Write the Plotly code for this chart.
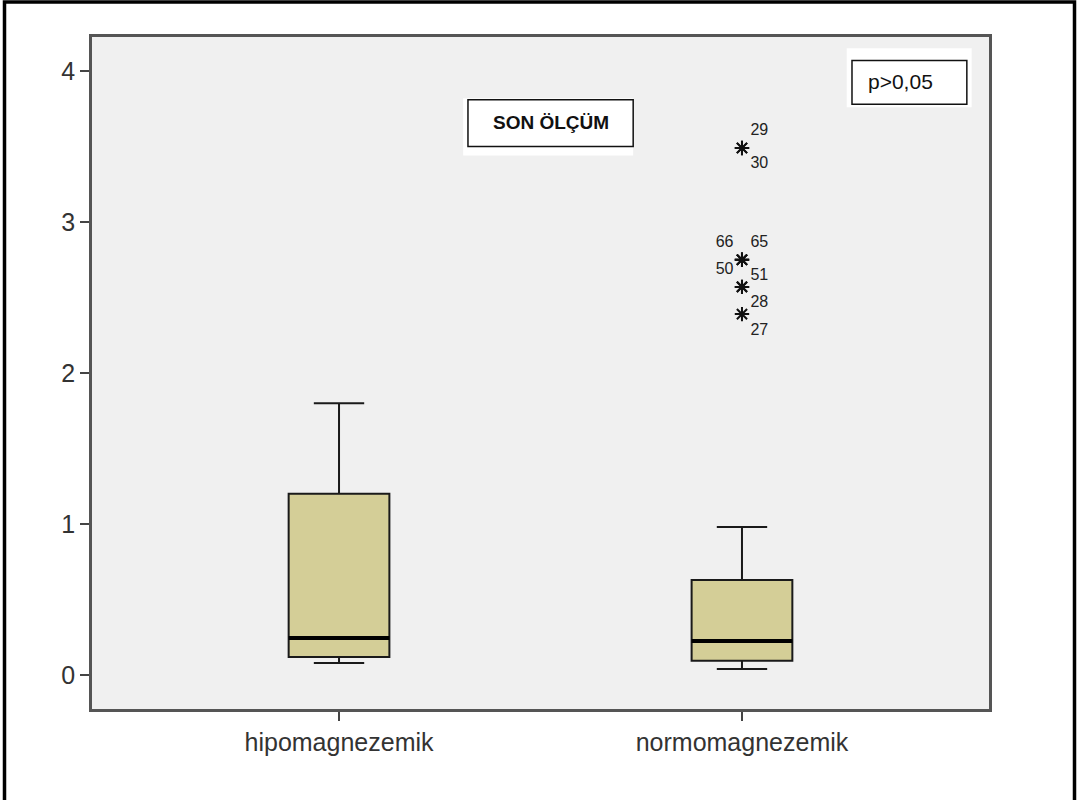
import plotly.graph_objects as go

# Group names and five-number summaries of the final measurement
groups = ["hipomagnezemik", "normomagnezemik"]
lower_whisker = [0.08, 0.04]
q1 = [0.12, 0.095]
median = [0.245, 0.225]
q3 = [1.20, 0.63]
upper_whisker = [1.80, 0.98]

# Extreme values (case numbers) in the normomagnezemik group
outlier_ids = ["29", "30", "66", "65", "51", "50", "28", "27"]
outlier_values = [3.49, 3.49, 2.75, 2.75, 2.75, 2.57, 2.57, 2.39]

y_ticks = [0, 1, 2, 3, 4]

title_text = "SON ÖLÇÜM"
p_text = "p>0,05"

positions = [1, 2]
box_w = 0.25
label_pos = ["top right", "bottom right", "top left", "top right",
             "bottom right", "top left", "bottom right", "bottom right"]

FONT = "Liberation Sans, Arial, sans-serif"
BOX_FILL = "#D4CE97"

fig = go.Figure()

for i, name in enumerate(groups):
    fig.add_trace(go.Box(
        x=[positions[i]],
        q1=[q1[i]], median=[median[i]], q3=[q3[i]],
        lowerfence=[lower_whisker[i]], upperfence=[upper_whisker[i]],
        width=box_w, whiskerwidth=0.5,
        fillcolor=BOX_FILL,
        line=dict(color="#1a1a1a", width=2),
        boxpoints=False, hoverinfo="skip", name=name,
    ))
    # heavier median bar
    fig.add_trace(go.Scatter(
        x=[positions[i] - box_w / 2, positions[i] + box_w / 2],
        y=[median[i], median[i]],
        mode="lines", line=dict(color="black", width=4),
        hoverinfo="skip",
    ))

fig.add_trace(go.Scatter(
    x=[positions[1]] * len(outlier_values),
    y=outlier_values,
    mode="markers+text",
    marker=dict(symbol="asterisk-open", size=12,
                line=dict(color="#111", width=2), color="#111"),
    text=outlier_ids,
    textposition=label_pos,
    textfont=dict(family=FONT, size=16, color="#222"),
    hoverinfo="skip", cliponaxis=False,
))

# white panels with framed text labels
fig.add_shape(type="rect", xref="x", yref="y",
              x0=1.308, x1=1.73, y0=3.44, y1=3.82,
              fillcolor="white", line=dict(width=0), layer="below")
fig.add_shape(type="rect", xref="x", yref="y",
              x0=1.320, x1=1.730, y0=3.50, y1=3.81,
              fillcolor="white", line=dict(color="#111", width=1.5), layer="above")
fig.add_annotation(x=1.525, y=3.66, xref="x", yref="y", text=title_text,
                   showarrow=False,
                   font=dict(family=FONT, size=19, color="#111", weight="bold"))

fig.add_shape(type="rect", xref="x", yref="y",
              x0=2.260, x1=2.570, y0=3.76, y1=4.15,
              fillcolor="white", line=dict(width=0), layer="below")
fig.add_shape(type="rect", xref="x", yref="y",
              x0=2.273, x1=2.558, y0=3.78, y1=4.07,
              fillcolor="white", line=dict(color="#111", width=1.5), layer="above")
fig.add_annotation(x=2.307, y=3.93, xref="x", yref="y", text=p_text,
                   showarrow=False, xanchor="left",
                   font=dict(family=FONT, size=21, color="#111"))

# page border (left, top, right)
L, T, R, B = 92, 37, 989, 709
W, H = R - L, B - T
px = lambda v: (v - L) / W
py = lambda v: 1 - (v - T) / H
fig.add_shape(type="path", xref="paper", yref="paper",
              path=f"M {px(4.5)} {py(805)} L {px(4.5)} {py(2)} L {px(1074.5)} {py(2)} L {px(1074.5)} {py(805)}",
              line=dict(color="black", width=3.5))

fig.update_layout(
    width=1077, height=800,
    margin=dict(l=L, r=1077 - R, t=T, b=800 - B),
    paper_bgcolor="white", plot_bgcolor="#F0F0F0",
    showlegend=False,
    font=dict(family=FONT, color="#333"),
)
fig.update_xaxes(
    range=[0.387, 2.613], tickvals=positions, ticktext=groups,
    ticks="outside", ticklen=9, tickwidth=2, tickcolor="#444",
    showline=True, linewidth=2.5, linecolor="#555", mirror=True,
    showgrid=False, zeroline=False,
    tickfont=dict(family=FONT, size=25, color="#333"),
)
fig.update_yaxes(
    range=[-0.225, 4.225], tickvals=y_ticks,
    ticks="outside", ticklen=9, tickwidth=2, tickcolor="#444",
    showline=True, linewidth=2.5, linecolor="#555", mirror=True,
    showgrid=False, zeroline=False,
    tickfont=dict(family=FONT, size=25, color="#333"),
)

fig.write_html("out.html")
